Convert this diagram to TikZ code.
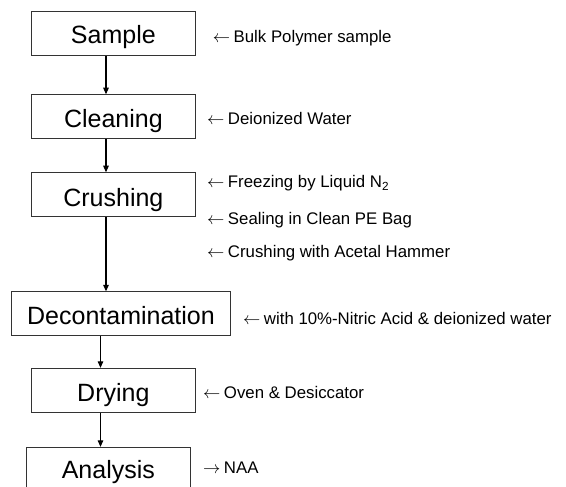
\documentclass[tikz,border=0pt]{standalone}
\usepackage{fontspec}
\setmainfont{Liberation Sans}
\newcommand{\larr}{$\leftarrow$\hspace{3.5pt}}
\newcommand{\rarr}{$\rightarrow$\hspace{3.5pt}}
\usetikzlibrary{arrows.meta}
\begin{document}
\begin{tikzpicture}[x=1pt,y=-1pt,
  stagebox/.style={draw=black!80,line width=0.9pt,minimum width=164.7pt,minimum height=44pt,inner sep=0pt,text depth=0pt,font=\fontsize{25}{25}\selectfont},
  note/.style={anchor=base west,inner sep=0pt,font=\fontsize{16.8}{17}\selectfont},
  flow/.style={line width=1.1pt,-{Triangle[length=6.5pt,width=5.5pt]}}]
\useasboundingbox (0,0) rectangle (566,487);
\node[stagebox,text height=19.2pt] (sample) at (113.35,33.7) {Sample};
\node[stagebox,text height=21.2pt] (cleaning) at (113.35,116.7) {Cleaning};
\node[stagebox,text height=24pt] (crushing) at (113.35,194.7) {Crushing};
\node[stagebox,text height=21pt,minimum width=219.4pt] (decon) at (121,313.8) {Decontamination};
\node[stagebox,text height=22pt] (drying) at (113.35,390.3) {Drying};
\node[stagebox,text height=18.8pt] (analysis) at (108.35,469.3) {Analysis};
\draw[flow] ([xshift=-7.35pt]sample.south) -- ([xshift=-7.35pt]cleaning.north);
\draw[flow] ([xshift=-7.35pt]cleaning.south) -- ([xshift=-7.35pt]crushing.north);
\draw[flow] ([xshift=-7.35pt]crushing.south) -- ([xshift=-15pt]decon.north);
\draw[flow] ([xshift=-20.5pt]decon.south) -- ([xshift=-12.85pt]drying.north);
\draw[flow] ([xshift=-12.85pt]drying.south) -- ([xshift=-7.85pt]analysis.north);
\node[note] (n1) at (212.7,42.7) {\larr Bulk Polymer sample};
\node[note] (n2) at (207,125) {\larr Deionized Water};
\node[note] (n3) at (207,188) {\larr Freezing by Liquid N\textsubscript{2}};
\node[note] (n4) at (207,224) {\larr Sealing in Clean PE Bag};
\node[note] (n5) at (207,257) {\larr Crushing with Acetal Hammer};
\node[note] (n6) at (243,324) {\larr with 10\%-Nitric Acid \& deionized water};
\node[note] (n7) at (203,398) {\larr Oven \& Desiccator};
\node[note] (n8) at (203,473) {\rarr NAA};
\end{tikzpicture}
\end{document}
